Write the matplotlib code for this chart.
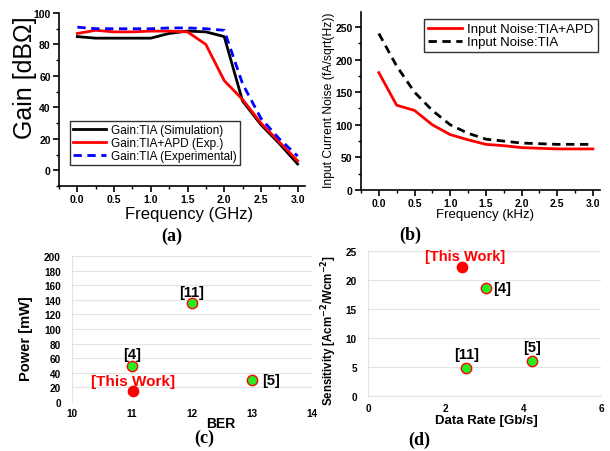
import matplotlib.pyplot as plt
from matplotlib.ticker import MultipleLocator

plt.rcParams['font.family'] = ['Liberation Sans', 'DejaVu Sans']

# (a) gain vs frequency
freq_a = [0.0, 0.25, 0.5, 0.75, 1.0, 1.25, 1.5, 1.75, 2.0, 2.25, 2.5, 2.75, 3.0]
gain_sim = [85, 84, 84, 84, 84, 87, 88.5, 88, 85, 44, 29, 17, 4]
gain_apd = [87, 89, 88, 88, 88.5, 88.5, 88, 80, 57, 45, 30, 18, 6]
gain_exp = [91, 90, 90, 90, 90, 90.5, 90.5, 90, 89, 55, 33, 20, 9]

# (b) input current noise
freq_b = [0.0, 0.25, 0.5, 0.75, 1.0, 1.25, 1.5, 1.75, 2.0, 2.25, 2.5, 2.75, 3.0]
noise_apd = [180, 130, 122, 100, 85, 77, 70, 68, 65, 64, 63, 63, 63]
noise_tia = [240, 190, 150, 122, 100, 87, 78, 75, 72, 71, 70, 70, 70]

# (c) power vs BER
ber = [11, 12, 13]
power = [49, 135, 30]
ber_labels = ['[4]', '[11]', '[5]']
this_ber, this_power = 11.02, 15

# (d) sensitivity vs data rate
rate = [3.04, 2.53, 4.23]
sens = [18.6, 4.8, 6.0]
rate_labels = ['[4]', '[11]', '[5]']
this_rate, this_sens = 2.42, 22.2

W, H = 610, 452
fig = plt.figure(figsize=(6.1, 4.52), dpi=100)


def box(l, t, r, b):
    return [l / W, 1 - b / H, (r - l) / W, (b - t) / H]


def bold_ticks(a):
    for lab in a.get_xticklabels() + a.get_yticklabels():
        lab.set_fontweight('bold')


# ---- (a)
ax = fig.add_axes(box(59, 14, 305, 187))
ax.plot(freq_a, gain_sim, color='black', lw=2, label='Gain:TIA (Simulation)')
ax.plot(freq_a, gain_apd, color='red', lw=2, label='Gain:TIA+APD (Exp.)')
ax.plot(freq_a, gain_exp, color='blue', lw=2, ls=(0, (3, 2)), label='Gain:TIA (Experimental)')
ax.set_xlim(-0.25, 3.1)
ax.set_ylim(-10, 100)
ax.set_yticks([0, 20, 40, 60, 80, 100])
ax.set_xticks([0, 0.5, 1, 1.5, 2, 2.5, 3])
ax.set_xticklabels(['0.0', '0.5', '1.0', '1.5', '2.0', '2.5', '3.0'])
ax.xaxis.set_minor_locator(MultipleLocator(0.25))
ax.yaxis.set_minor_locator(MultipleLocator(10))
for s in ['top', 'right']:
    ax.spines[s].set_visible(False)
ax.spines['left'].set_linewidth(1.2)
ax.spines['bottom'].set_linewidth(1.2)
ax.tick_params(direction='out', labelsize=7.5, length=4, width=1.2, pad=2)
ax.tick_params(which='minor', length=2.5, width=1)
bold_ticks(ax)
ax.set_ylabel('Gain [dBΩ]', fontsize=18)
ax.yaxis.set_label_coords(-0.089, 0.63)
ax.set_xlabel('Frequency (GHz)', fontsize=12)
ax.xaxis.set_label_coords(0.53, -0.116)
ax.legend(loc='lower left', bbox_to_anchor=(0.045, 0.12), fontsize=8.5, frameon=True,
          fancybox=False, edgecolor='black', borderpad=0.25, labelspacing=0.1,
          handlelength=2.8, handletextpad=0.4, borderaxespad=0)

# ---- (b)
bx = fig.add_axes(box(361, 13, 600, 191))
bx.plot(freq_b, noise_apd, color='red', lw=2, label='Input Noise:TIA+APD')
bx.plot(freq_b, noise_tia, color='black', lw=2, ls=(0, (3, 2)), label='Input Noise:TIA')
bx.set_xlim(-0.25, 3.1)
bx.set_ylim(0, 273)
bx.set_yticks([0, 50, 100, 150, 200, 250])
bx.set_xticks([0, 0.5, 1, 1.5, 2, 2.5, 3])
bx.set_xticklabels(['0.0', '0.5', '1.0', '1.5', '2.0', '2.5', '3.0'])
bx.xaxis.set_minor_locator(MultipleLocator(0.25))
bx.yaxis.set_minor_locator(MultipleLocator(25))
for s in ['top', 'right']:
    bx.spines[s].set_visible(False)
bx.spines['left'].set_linewidth(1.2)
bx.spines['bottom'].set_linewidth(1.2)
bx.tick_params(direction='out', labelsize=7.5, length=4, width=1.2, pad=2)
bx.tick_params(which='minor', length=2.5, width=1)
bold_ticks(bx)
bx.set_ylabel('Input Current Noise (fA/sqrt(Hz))', fontsize=8.7)
bx.yaxis.set_label_coords(-0.109, 0.51)
bx.set_xlabel('Frequency (kHz)', fontsize=9.5)
bx.xaxis.set_label_coords(0.52, -0.1)
bx.legend(loc='upper right', bbox_to_anchor=(0.99, 0.96), fontsize=9.5, frameon=True,
          fancybox=False, edgecolor='black', borderpad=0.3, labelspacing=0.05,
          handlelength=2.6, handletextpad=0.4, borderaxespad=0)

# ---- (c)
cx = fig.add_axes(box(72, 257, 312, 403))
cx.set_xlim(10, 14)
cx.set_ylim(0, 200)
cx.set_yticks(range(0, 201, 20))
cx.set_xticks([10, 11, 12, 13, 14])
cx.grid(axis='y', color='#e3e3e3', lw=0.8)
cx.set_axisbelow(True)
for s in ['top', 'right', 'bottom']:
    cx.spines[s].set_visible(False)
cx.spines['left'].set_color('#e3e3e3')
cx.tick_params(axis='y', length=0, labelsize=7.2, pad=8)
cx.tick_params(axis='x', length=0, labelsize=7.2, pad=4)
bold_ticks(cx)
cx.scatter(ber, power, s=55, color='#22ee22', edgecolors='red', linewidths=1, zorder=3)
cx.scatter([this_ber], [this_power], s=55, color='red', zorder=3)
cx.annotate(ber_labels[0], (ber[0], power[0]), xytext=(0, 9), textcoords='offset points',
            ha='center', va='center', fontsize=10.5, fontweight='bold')
cx.annotate(ber_labels[1], (ber[1], power[1]), xytext=(0, 8), textcoords='offset points',
            ha='center', va='center', fontsize=10.5, fontweight='bold')
cx.annotate(ber_labels[2], (ber[2], power[2]), xytext=(7, 0), textcoords='offset points',
            ha='left', va='center', fontsize=10.5, fontweight='bold')
cx.annotate('[This Work]', (this_ber, this_power), xytext=(0, 7), textcoords='offset points',
            ha='center', va='center', fontsize=11, fontweight='bold', color='red')
cx.set_ylabel('Power [mW]', fontsize=10.5, fontweight='bold')
cx.yaxis.set_label_coords(-0.163, 0.44)
cx.set_xlabel('BER', fontsize=10, fontweight='bold')
cx.xaxis.set_label_coords(0.62, -0.096)

# ---- (d)
dx = fig.add_axes(box(368, 252, 601, 397))
dx.set_xlim(0, 6)
dx.set_ylim(0, 25)
dx.set_yticks([0, 5, 10, 15, 20, 25])
dx.set_xticks([0, 2, 4, 6])
dx.grid(axis='y', color='#e3e3e3', lw=0.8)
dx.set_axisbelow(True)
for s in ['top', 'right']:
    dx.spines[s].set_visible(False)
dx.spines['left'].set_color('#e3e3e3')
dx.spines['bottom'].set_color('#e3e3e3')
dx.tick_params(axis='y', length=0, labelsize=7.2, pad=8)
dx.tick_params(axis='x', length=0, labelsize=7.2, pad=5)
bold_ticks(dx)
dx.scatter(rate, sens, s=55, color='#22ee22', edgecolors='red', linewidths=1, zorder=3)
dx.scatter([this_rate], [this_sens], s=55, color='red', zorder=3)
dx.annotate(rate_labels[0], (rate[0], sens[0]), xytext=(5, 0), textcoords='offset points',
            ha='left', va='center', fontsize=10.5, fontweight='bold')
dx.annotate(rate_labels[1], (rate[1], sens[1]), xytext=(0, 10), textcoords='offset points',
            ha='center', va='center', fontsize=10.5, fontweight='bold')
dx.annotate(rate_labels[2], (rate[2], sens[2]), xytext=(0, 10), textcoords='offset points',
            ha='center', va='center', fontsize=10.5, fontweight='bold')
dx.annotate('[This Work]', (this_rate, this_sens), xytext=(2, 8), textcoords='offset points',
            ha='center', va='center', fontsize=10.5, fontweight='bold', color='red')
dx.set_ylabel('Sensitivity [Acm$^{\\mathbf{-2}}$/Wcm$^{\\mathbf{-2}}$]', fontsize=8.3,
              fontweight='bold')
dx.yaxis.set_label_coords(-0.124, 0.46)
dx.set_xlabel('Data Rate [Gb/s]', fontsize=9.5, fontweight='bold')
dx.xaxis.set_label_coords(0.506, -0.124)

# panel tags
for txt, x, y in [('(a)', 172, 236), ('(b)', 410, 235), ('(c)', 204, 438), ('(d)', 419, 440)]:
    fig.text(x / W, 1 - y / H, txt, family='Liberation Serif', fontsize=13,
             fontweight='bold', ha='center', va='center')

fig.savefig('out.png', dpi=100)
